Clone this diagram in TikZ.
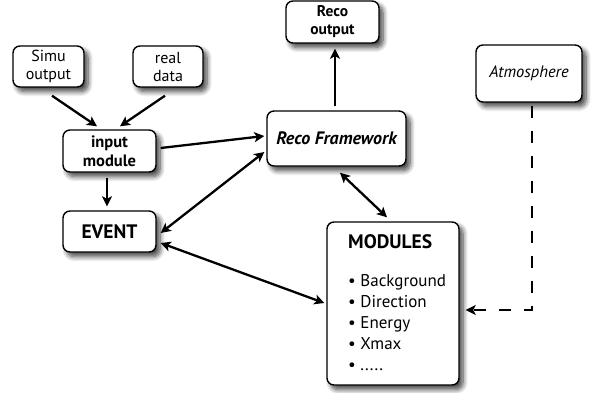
\documentclass[tikz,border=0pt]{standalone}
\usepackage{fontspec}
\setmainfont{PT Sans}
\usetikzlibrary{arrows.meta,calc,shadows.blur}

\tikzset{
  box/.style={draw=black, line width=1.4pt, rounded corners=7pt, fill=white,
    align=center, inner sep=0pt,
    blur shadow={shadow xshift=4pt, shadow yshift=-4.5pt,
      shadow blur radius=5pt, shadow blur steps=8, shadow opacity=75}},
  txt/.style={font=\fontsize{16}{18}\selectfont},
  tip/.tip={Stealth[length=10pt,width=10pt,inset=2.5pt]},
  link/.style={line width=2.3pt, -tip},
  dlink/.style={line width=2.3pt, tip-tip},
  dlinkdash/.style={line width=2.7pt, dash pattern=on 12pt off 13pt, -tip},
}

\begin{document}
\begin{tikzpicture}[x=1pt,y=-1pt]
  \useasboundingbox (0,0) rectangle (591,393);

  % sources
  \node[box, txt, minimum width=71pt, minimum height=41pt] (simu) at (48.5,66.5) {Simu\\output};
  \node[box, txt, minimum width=70pt, minimum height=41pt] (real) at (168,66.5) {real\\data};

  % input and event
  \node[box, font=\fontsize{16.5}{18.5}\selectfont\bfseries, minimum width=93pt, minimum height=42pt] (input) at (109.5,151) {input\\module};
  \node[box, font=\fontsize{19.5}{22}\selectfont\bfseries, minimum width=93pt, minimum height=41pt] (event) at (109.5,231.5) {EVENT};

  % reconstruction
  \node[box, font=\fontsize{15.5}{18}\selectfont\bfseries, minimum width=93pt, minimum height=42pt] (recoout) at (332.5,22) {Reco\\output};
  \node[box, font=\fontsize{18}{20}\selectfont\bfseries\itshape, minimum width=139pt, minimum height=55pt] (fw) at (336.5,138.5) {Reco Framework};

  % modules
  \node[box, minimum width=132pt, minimum height=163pt] (modules) at (393,303.5) {};
  \node[anchor=north west, inner sep=0pt, align=left, font=\fontsize{17}{21}\selectfont] (modlist) at (348,234)
    {{\fontsize{19.5}{22}\selectfont\bfseries MODULES}\\[17pt]
     • Background\\ • Direction\\ • Energy\\ • Xmax\\ • .....};

  % atmosphere
  \node[box, font=\fontsize{16.5}{18}\selectfont\itshape, minimum width=106pt, minimum height=57pt] (atm) at (529,73.5) {Atmosphere};

  % connectors
  \draw[link] ($(simu.south)+(3.5,8)$) -- ($(input.north)+(-12.5,-3)$);
  \draw[link] ($(real.south)+(-3,8)$) -- ($(input.north)+(10.5,-3)$);
  \draw[link] ($(input.south)+(-2.5,5)$) -- ($(event.north)+(-2.5,-4)$);
  \draw[link] ($(input.east)+(4,-3)$) -- ($(fw.west)+(-2,-2.5)$);
  \draw[dlink] ($(fw.west)+(-2,13.5)$) -- ($(event.east)+(4,1.5)$);
  \draw[dlink] ($(event.east)+(4,11.5)$) -- ($(modules.west)+(-2,-0.5)$);
  \draw[dlink] ($(fw.south)+(3.5,6)$) -- ($(modules.north)+(-6,-4)$);
  \draw[link] ($(fw.north)+(-1.5,-4)$) -- ($(recoout.south)+(2.5,5)$);
  \draw[dlinkdash] ($(atm.south)+(3,3)$) |- ($(modules.east)+(6,6.5)$);
\end{tikzpicture}
\end{document}
